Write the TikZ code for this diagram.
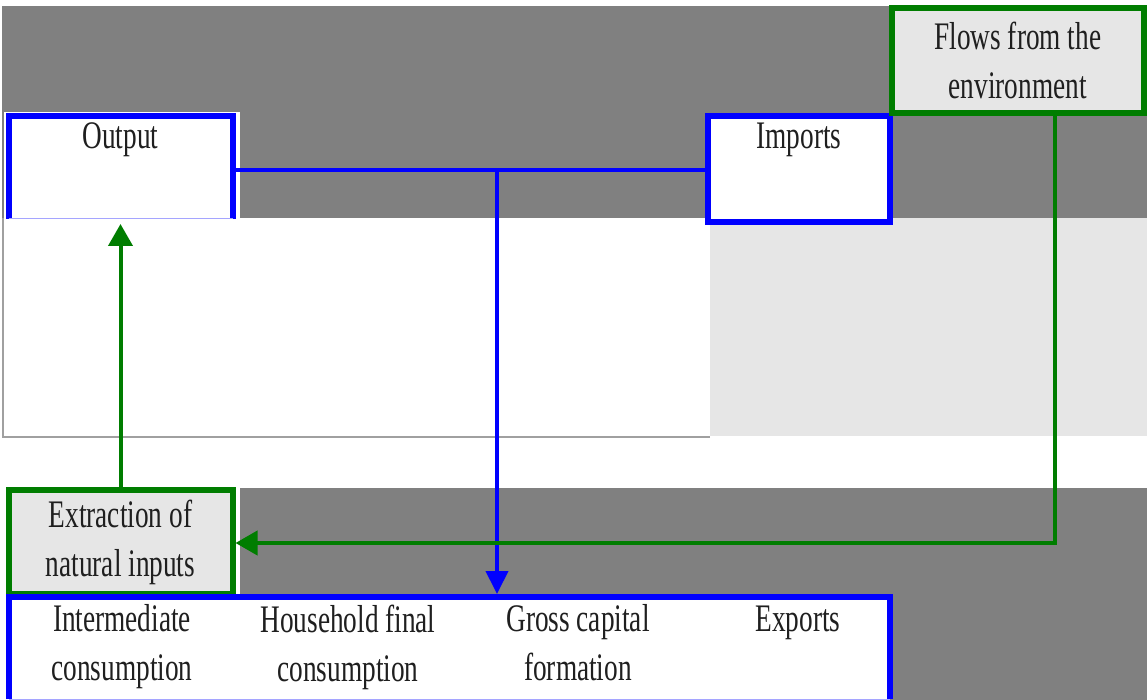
\documentclass[tikz,border=0pt]{standalone}
\usepackage{fontspec}
\setmainfont{Liberation Serif}[FakeStretch=0.70]
\usetikzlibrary{arrows.meta}
\definecolor{bandgray}{RGB}{128,128,128}
\definecolor{panelgray}{RGB}{230,230,230}
\definecolor{flowblue}{RGB}{0,0,255}
\definecolor{flowgreen}{RGB}{0,125,0}
\definecolor{thinblue}{RGB}{165,165,255}
\definecolor{edgegray}{RGB}{160,160,160}

\begin{document}
\begin{tikzpicture}[x=0.5pt,y=-0.5pt,
  every node/.style={font=\fontsize{19.5}{24.5}\selectfont, text=black!88,
                     inner sep=0pt, outer sep=0pt, align=center},
  bluebox/.style={rectangle, draw=flowblue, line width=3pt, fill=white},
  greenbox/.style={rectangle, draw=flowgreen, line width=3pt, fill=panelgray},
  openbox/.style={rectangle, fill=white},
  heavyblue/.style={draw=flowblue, line width=3pt},
  thinedge/.style={draw=thinblue, line width=0.5pt},
  blueline/.style={draw=flowblue, line width=2pt},
  greenline/.style={draw=flowgreen, line width=2pt},
  bluetip/.style={-{Triangle[width=11pt,length=11.5pt]}},
  greentip/.style={-{Triangle[width=12pt,length=11pt]}}
]
\useasboundingbox (0,0) rectangle (1147,700);

% background panels
\fill[white] (0,0) rectangle (1147,700);
\fill[bandgray] (2,6) rectangle (1147,218);
\fill[white] (3,218) rectangle (710,437);
\draw[edgegray, line width=1pt] (3,218) -- (3,437) -- (710,437);
\fill[panelgray] (710,218) rectangle (1147,436);
\fill[bandgray] (240,488) rectangle (1147,700);
\fill[white] (4,112) rectangle (240,219);

% boxes
\node[openbox, minimum width=112pt, minimum height=51.5pt] (out) at (120.5,167.5) {};
\draw[heavyblue] (out.south west) -- (out.north west) -- (out.north east) -- (out.south east);
\draw[thinedge] (out.south west) -- (out.south east);
\node[anchor=base] (outlbl) at (120.5,149) {Output};

\node[bluebox, minimum width=91pt, minimum height=53pt] (imp) at (799,169) {};
\node[anchor=base] (implbl) at (799,149) {Imports};

\node[greenbox, minimum width=126.25pt, minimum height=52.25pt] (flows) at (1017.75,60.75)
  {Flows from the\\environment};

\node[greenbox, minimum width=112pt, minimum height=52pt] (extr) at (120.5,542)
  {Extraction of\\natural inputs};

\node[openbox, minimum width=440.75pt, minimum height=51pt] (fin) at (449.25,648) {};
\draw[heavyblue] (fin.south west) -- (fin.north west) -- (fin.north east) -- (fin.south east);
\draw[thinedge] (fin.south west) -- (fin.south east);
\node (c1) at (122,647) {Intermediate\\consumption};
\node (c2) at (348,647) {Household final\\consumption};
\node (c3) at (578,643) {Gross capital\\formation};
\node (c4) at (798,623) {Exports};

% connectors
\coordinate (bus) at (497,170);
\coordinate (turn) at (1055,543);
\draw[blueline] (out.east |- bus) -- (imp.west |- bus);
\draw[blueline, bluetip, shorten >=1.5pt] (bus) -- (fin.north -| bus);
\draw[greenline, greentip, shorten >=1.5pt] (flows.south -| turn) -- (turn) -- (extr.east |- turn);
\draw[greenline, greentip, shorten >=2.5pt] (extr.north) -- (out.south);
\end{tikzpicture}
\end{document}
